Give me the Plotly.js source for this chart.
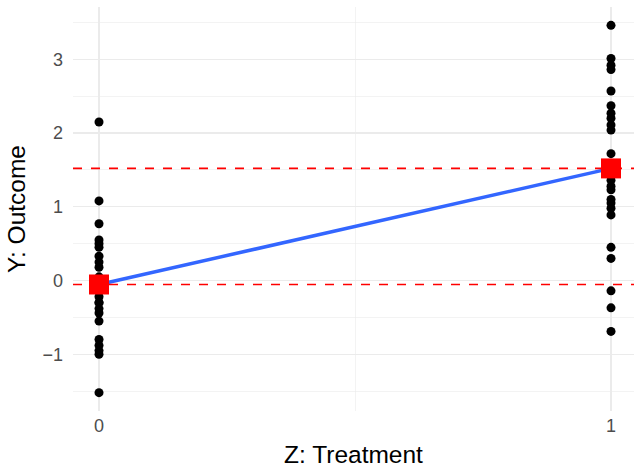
<!DOCTYPE html>
<html>
<head>
<meta charset="utf-8">
<script src="https://cdn.plot.ly/plotly-3.0.1.min.js"></script>
<style>html,body{margin:0;padding:0;background:#fff;}#chart{width:634px;height:468px;}</style>
</head>
<body>
<div id="chart"></div>
<script>
// Data
const groups = [0, 1];
const controlY = [2.15, 1.08, 0.77, 0.55, 0.50, 0.45, 0.33, 0.25, 0.18, 0.05, -0.30, -0.15, -0.22, -0.30, -0.38, -0.44, -0.55, -0.80, -0.88, -0.95, -1.00, -1.52];
const treatedY = [3.46, 3.01, 2.92, 2.86, 2.57, 2.37, 2.27, 2.20, 2.11, 2.04, 1.72, 1.10, 1.36, 1.28, 1.23, 1.05, 0.98, 0.89, 0.45, 0.30, -0.14, -0.37, -0.69];
const xTickVals = [0, 1];
const xTickText = ["0", "1"];
const yTickVals = [-1, 0, 1, 2, 3];
const yTickText = ["\u22121", "0", "1", "2", "3"];

const mean = a => a.reduce((s, v) => s + v, 0) / a.length;
const means = [mean(controlY), mean(treatedY)];

const ptsX = controlY.map(() => groups[0]).concat(treatedY.map(() => groups[1]));
const ptsY = controlY.concat(treatedY);

const traces = [
  {type: 'scatter', mode: 'markers', x: ptsX, y: ptsY,
   marker: {color: '#000000', size: 9}, hoverinfo: 'skip', showlegend: false},
  {type: 'scatter', mode: 'lines', x: groups, y: means,
   line: {color: '#3366FF', width: 3.5}, showlegend: false},
  {type: 'scatter', mode: 'markers', x: groups, y: means,
   marker: {color: '#FF0000', size: 20, symbol: 'square'}, showlegend: false}
];

const fontFam = 'Liberation Sans, Arial, sans-serif';
const layout = {
  width: 634, height: 468,
  margin: {l: 73, r: 0, t: 7, b: 57},
  paper_bgcolor: '#ffffff', plot_bgcolor: '#ffffff',
  font: {family: fontFam},
  showlegend: false,
  shapes: means.map(m => ({
    type: 'line', xref: 'paper', x0: 0, x1: 1, yref: 'y', y0: m, y1: m,
    line: {color: '#FF0000', width: 1.6, dash: 'dash'}, layer: 'above'
  })),
  xaxis: {
    range: [-0.0508, 1.0449],
    tickvals: xTickVals, ticktext: xTickText,
    showgrid: true, gridcolor: '#ebebeb', gridwidth: 1.1,
    minor: {tickvals: [0.5], showgrid: true, gridcolor: '#ebebeb', gridwidth: 0.6, ticklen: 0},
    zeroline: false, showline: false, ticks: '',
    ticklabelstandoff: 2,
    tickfont: {size: 18, color: '#4d4d4d', family: fontFam},
    title: {text: 'Z: Treatment', font: {size: 24.5, color: '#000000', family: fontFam}, standoff: 10}
  },
  yaxis: {
    range: [-1.769, 3.709],
    tickvals: yTickVals, ticktext: yTickText,
    showgrid: true, gridcolor: '#ebebeb', gridwidth: 1.1,
    minor: {tickvals: [-1.5, -0.5, 0.5, 1.5, 2.5, 3.5], showgrid: true, gridcolor: '#ebebeb', gridwidth: 0.6, ticklen: 0},
    zeroline: false, showline: false, ticks: '',
    ticklabelstandoff: 9,
    tickfont: {size: 18, color: '#4d4d4d', family: fontFam},
    title: {text: 'Y: Outcome', font: {size: 24.5, color: '#000000', family: fontFam}, standoff: 9}
  }
};

Plotly.newPlot('chart', traces, layout, {staticPlot: true, displayModeBar: false});
</script>
</body>
</html>
